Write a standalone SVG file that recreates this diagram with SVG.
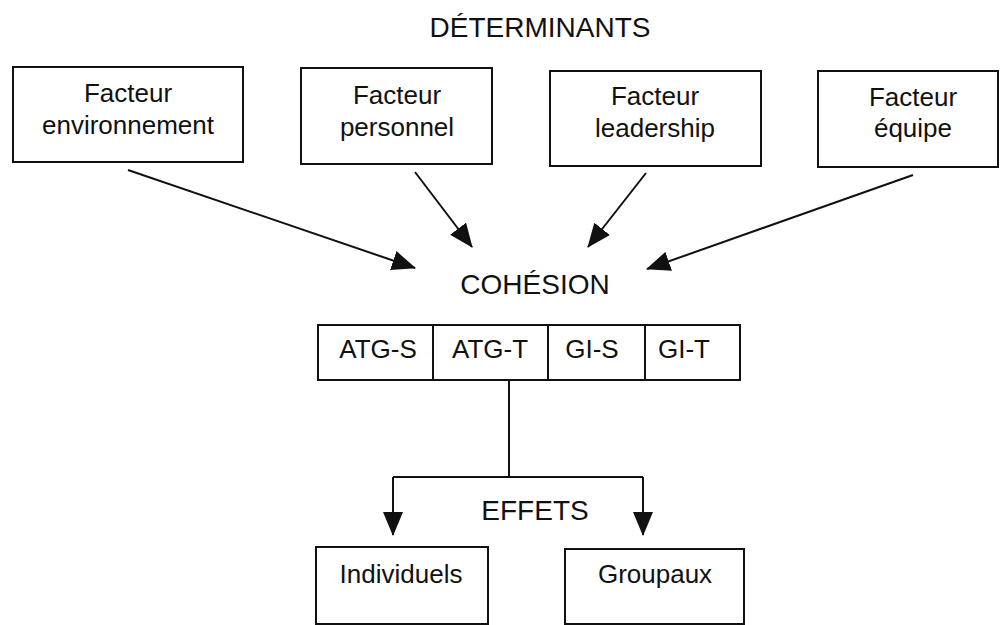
<svg xmlns="http://www.w3.org/2000/svg" width="1000" height="625" viewBox="0 0 1000 625">
  <style>
    .box { fill: #ffffff; stroke: #111111; stroke-width: 2; }
    .lbl { font-family: "Liberation Sans", Arial, sans-serif; font-size: 26px; fill: #111111; text-anchor: middle; }
    .ttl { font-family: "Liberation Sans", Arial, sans-serif; font-size: 28px; fill: #111111; text-anchor: middle; }
    .link { fill: none; stroke: #111111; stroke-width: 2; }
  </style>
  <defs>
    <marker id="head" markerUnits="userSpaceOnUse" markerWidth="24" markerHeight="20" viewBox="0 0 24 20" refX="23" refY="10" orient="auto">
      <path d="M0,0 L24,10 L0,20 z" fill="#111111"/>
    </marker>
  </defs>
  <rect width="1000" height="625" fill="#ffffff"/>

  <!-- section titles -->
  <text class="ttl" x="540" y="37">DÉTERMINANTS</text>
  <text class="ttl" x="535" y="294">COHÉSION</text>
  <text class="ttl" x="535" y="520">EFFETS</text>

  <!-- determinants -->
  <g id="facteur-environnement">
    <rect class="box" x="13" y="67" width="230" height="95"/>
    <text class="lbl" x="128" y="102">Facteur</text>
    <text class="lbl" x="128" y="134">environnement</text>
  </g>
  <g id="facteur-personnel">
    <rect class="box" x="301" y="68" width="191" height="96"/>
    <text class="lbl" x="397" y="104">Facteur</text>
    <text class="lbl" x="397" y="136">personnel</text>
  </g>
  <g id="facteur-leadership">
    <rect class="box" x="550" y="71" width="211" height="95"/>
    <text class="lbl" x="655" y="105">Facteur</text>
    <text class="lbl" x="655" y="137">leadership</text>
  </g>
  <g id="facteur-equipe">
    <rect class="box" x="818" y="71" width="180" height="96"/>
    <text class="lbl" x="913" y="106">Facteur</text>
    <text class="lbl" x="913" y="137">équipe</text>
  </g>

  <!-- cohesion dimensions -->
  <g id="cohesion">
    <rect class="box" x="318" y="325" width="422" height="55"/>
    <line class="link" x1="433" y1="325" x2="433" y2="380"/>
    <line class="link" x1="548" y1="325" x2="548" y2="380"/>
    <line class="link" x1="645" y1="325" x2="645" y2="380"/>
    <text class="lbl" x="378" y="358">ATG-S</text>
    <text class="lbl" x="490" y="358">ATG-T</text>
    <text class="lbl" x="592" y="358">GI-S</text>
    <text class="lbl" x="684" y="358">GI-T</text>
  </g>

  <!-- effects -->
  <g id="individuels">
    <rect class="box" x="316" y="547" width="172" height="77"/>
    <text class="lbl" x="401" y="583">Individuels</text>
  </g>
  <g id="groupaux">
    <rect class="box" x="565" y="549" width="179" height="75"/>
    <text class="lbl" x="655" y="583">Groupaux</text>
  </g>

  <!-- connectors -->
  <g id="connectors">
    <line class="link" x1="128" y1="170" x2="415" y2="268" marker-end="url(#head)"/>
    <line class="link" x1="415" y1="172" x2="472" y2="247" marker-end="url(#head)"/>
    <line class="link" x1="646" y1="173" x2="588" y2="247" marker-end="url(#head)"/>
    <line class="link" x1="913" y1="175" x2="647" y2="269" marker-end="url(#head)"/>
    <line class="link" x1="509" y1="380" x2="509" y2="477"/>
    <line class="link" x1="393" y1="477" x2="643" y2="477"/>
    <line class="link" x1="393" y1="477" x2="393" y2="535" marker-end="url(#head)"/>
    <line class="link" x1="643" y1="477" x2="643" y2="535" marker-end="url(#head)"/>
  </g>
</svg>
